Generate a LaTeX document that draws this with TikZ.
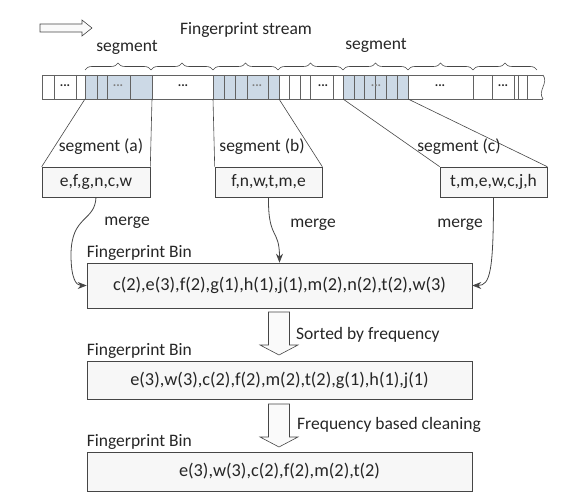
\documentclass[tikz,border=0pt]{standalone}
\usepackage{fontspec}
\setmainfont{Carlito}
\usetikzlibrary{arrows.meta,decorations.pathreplacing,positioning}
\definecolor{segblue}{RGB}{204,217,230}
\definecolor{linegray}{RGB}{70,70,70}

\begin{document}
\begin{tikzpicture}[x=1pt,y=-1pt,
	every node/.style={font=\fontsize{17.5}{20}\selectfont, text=black!85},
	cell/.style={draw=linegray!85, line width=0.7pt},
	dots/.style={font=\fontsize{13}{14}\selectfont\bfseries, inner sep=0pt},
	brace/.style={draw=linegray, line width=0.6pt, decorate, decoration={brace, amplitude=7pt}},
	segbox/.style={draw=linegray, fill=gray!6, line width=0.6pt, minimum width=107, minimum height=30, inner sep=0pt},
	bin/.style={draw=linegray, fill=gray!6, line width=0.6pt, minimum width=385, inner sep=0pt, font=\fontsize{18.3}{20}\selectfont},
	hollow/.style={draw=linegray, fill=gray!4, line width=0.6pt},
	funnel/.style={draw=linegray, line width=0.6pt},
	merge/.style={draw=linegray, line width=0.8pt, -{Stealth[length=9pt,width=7pt]}},
	binlabel/.style={anchor=south west, inner xsep=0pt, inner ysep=2pt}]
	\useasboundingbox (0,0) rectangle (579,502);

	% stream
	\draw[hollow] (40,24) -- (82,24) -- (82,20) -- (92,28) -- (82,36) -- (82,32) -- (40,32) -- cycle;
	\node (title) at (246,30) {Fingerprint stream};
	\fill[segblue] (85,75) rectangle (152,99);
	\fill[segblue] (213,75) rectangle (279,99);
	\fill[segblue] (343,75) rectangle (408,99);
	\draw[cell] (543,75) -- (42,75) -- (42,99) -- (543,99);
	\draw[cell] (543,75) .. controls (549,83) and (537,91) .. (543,99);
	\foreach \x in {54,76,85,97,107,130,152,213,224,235,247,268,279,289,300,310,333,343,354,364,375,386,397,408,473,492,514,518,527}{
		\draw[cell] (\x,75) -- (\x,99);
	}
	\foreach \x in {65,183,323,440,503}{
		\node[dots] at (\x,86) {...};
	}
	\foreach \x in {118,257,376}{
		\node[dots, text=gray] at (\x,86) {...};
	}
	\foreach \a/\b in {85/151,151/213,213/278,278/343,343/408,408/473,473/537}{
		\draw[brace] (\a,70) -- (\b,70);
	}
	\node (segtop1) at (127,47) {segment};
	\node (segtop2) at (376,45) {segment};

	% segments
	\coordinate (a1) at (85,99);
	\coordinate (a2) at (152,99);
	\coordinate (b1) at (213,99);
	\coordinate (b2) at (279,99);
	\coordinate (c1) at (343,99);
	\coordinate (c2) at (408,99);
	\node[segbox, minimum width=108] (segA) at (96,182) {e,f,g,n,c,w};
	\node[segbox] (segB) at (268.5,182) {f,n,w,t,m,e};
	\node[segbox] (segC) at (493.5,182) {t,m,e,w,c,j,h};
	\draw[funnel] (a1) -- (segA.north west);
	\draw[funnel] (a2) -- (segA.north east);
	\draw[funnel] (b1) -- (segB.north west);
	\draw[funnel] (b2) -- (segB.north east);
	\draw[funnel] (c1) -- (segC.north west);
	\draw[funnel] (c2) -- (segC.north east);
	\node (labA) at (101,147) {segment (a)};
	\node (labB) at (262,147) {segment (b)};
	\node (labC) at (459,147) {segment (c)};

	% bins
	\node[bin, minimum height=45] (binA) at (279.5,285.5) {c(2),e(3),f(2),g(1),h(1),j(1),m(2),n(2),t(2),w(3)};
	\node[bin, minimum height=38] (binB) at (279.5,380) {e(3),w(3),c(2),f(2),m(2),t(2),g(1),h(1),j(1)};
	\node[bin, minimum height=39] (binC) at (279.5,471.5) {e(3),w(3),c(2),f(2),m(2),t(2)};
	\node[binlabel] (nameA) at (binA.north west) {Fingerprint Bin};
	\node[binlabel] (nameB) at (binB.north west) {Fingerprint Bin};
	\node[binlabel] (nameC) at (binC.north west) {Fingerprint Bin};

	% merging
	\draw[merge] (segA.south) .. controls (95,222) and (71,215) .. (71,255) .. controls (71,278) and (76,285.5) .. (binA.west);
	\draw[merge] (segB.south) .. controls (268,240) and (279.5,228) .. (binA.north);
	\draw[merge] (segC.south) .. controls (493.5,272) and (490,285.5) .. (binA.east);
	\node (mergeA) at (127,223) {merge};
	\node (mergeB) at (313,225) {merge};
	\node (mergeC) at (460,225) {merge};

	% sorting and cleaning
	\draw[hollow] (268.5,312) -- (289.5,312) -- (289.5,345) -- (298,345) -- (279,355) -- (260,345) -- (268.5,345) -- cycle;
	\draw[hollow] (268.5,404) -- (289.5,404) -- (289.5,437) -- (298,437) -- (279,447) -- (260,437) -- (268.5,437) -- cycle;
	\node[anchor=west, inner xsep=0pt] (sortlab) at (296,335) {Sorted by frequency};
	\node[anchor=west, inner xsep=0pt] (cleanlab) at (297,425) {Frequency based cleaning};
\end{tikzpicture}
\end{document}
